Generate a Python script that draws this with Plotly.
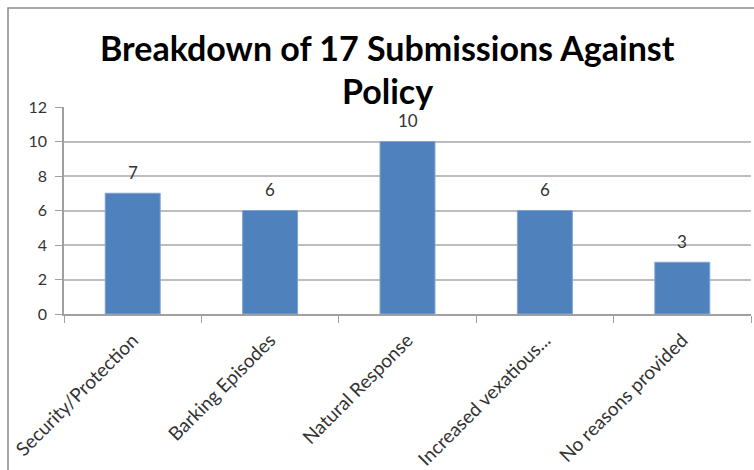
import plotly.graph_objects as go

categories = ["Security/Protection", "Barking Episodes", "Natural Response",
              "Increased vexatious...", "No reasons provided"]
values = [7, 6, 10, 6, 3]
y_ticks = [0, 2, 4, 6, 8, 10, 12]
title_lines = ["Breakdown of 17 Submissions Against", "Policy"]

L, R, T, B = 64, 3, 107, 156
W, H = 754, 470
pw, ph = W - L - R, H - T - B
FONT = "Lato, Calibri, sans-serif"

def px_x(p):
    return (p - L) / pw

def px_y(p):
    return (H - B - p) / ph

fig = go.Figure(go.Bar(
    x=categories, y=values,
    marker=dict(color="#4F81BD", line=dict(color="#7fa3d2", width=1)),
    width=0.4,
))

annotations = [
    dict(text=f"<b>{t}</b>", xref="paper", yref="paper", x=px_x(387), y=px_y(cy),
         xanchor="center", yanchor="middle", showarrow=False,
         font=dict(family=FONT, size=34, color="#000000"))
    for t, cy in zip(title_lines, [47, 90])
]
annotations += [
    dict(text=str(v), x=c, y=v, xref="x", yref="y", yanchor="middle",
         yshift=21, showarrow=False,
         font=dict(family=FONT, size=17, color="#333333"))
    for c, v in zip(categories, values)
]

fig.update_layout(
    width=W, height=H, margin=dict(l=L, r=R, t=T, b=B, autoexpand=False),
    paper_bgcolor="white", plot_bgcolor="white",
    showlegend=False,
    annotations=annotations,
    xaxis=dict(showline=True, linecolor="#a0a0a0", linewidth=1.5, automargin=False,
               ticks="outside", ticklen=7, tickcolor="#a0a0a0", tickson="boundaries",
               tickangle=-45, showgrid=False, ticklabelstandoff=6,
               tickfont=dict(family=FONT, size=19, color="#333333")),
    yaxis=dict(range=[0, 12], tickvals=y_ticks, showline=True, linecolor="#a0a0a0",
               linewidth=1.5, ticks="outside", ticklen=7, tickcolor="#a0a0a0",
               showgrid=True, gridcolor="#bdbdbd", gridwidth=1.5, zeroline=False,
               ticklabelstandoff=5, automargin=False,
               tickfont=dict(family=FONT, size=16, color="#333333")),
    shapes=[dict(type="rect", xref="paper", yref="paper",
                 x0=px_x(8), x1=px_x(770), y0=px_y(480), y1=px_y(8),
                 line=dict(color="#8c8c8c", width=1.5), layer="below")],
)

fig.write_html("out.html")
